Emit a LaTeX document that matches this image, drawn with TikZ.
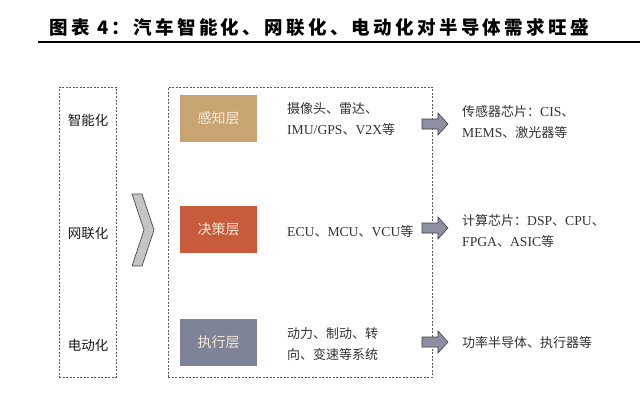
\documentclass[tikz,border=0pt]{standalone}
\usepackage{fontspec}
\setmainfont{Noto Sans CJK SC}
\newfontfamily\latinfont[Scale=1.05]{Liberation Serif}
\newfontfamily\titlefont[LetterSpace=18]{Noto Sans CJK SC}
\usetikzlibrary{positioning}
\newcommand{\latn}[1]{{\latinfont #1}}

\definecolor{senseclr}{HTML}{C9A473}
\definecolor{decideclr}{HTML}{C75B3C}
\definecolor{actclr}{HTML}{7E8398}
\definecolor{labelclr}{HTML}{F5EBD8}
\definecolor{arrowclr}{HTML}{8C90A2}
\definecolor{chevclr}{HTML}{C4C4C4}
\definecolor{textclr}{HTML}{333333}

\begin{document}
\begin{tikzpicture}[x=1pt, y=-1pt,
	dashbox/.style={draw=black!65, dash pattern=on 2pt off 1.5pt, line width=0.8pt, inner sep=0},
	layer/.style={minimum width=77pt, minimum height=47pt, inner sep=0, text=labelclr, font=\fontsize{14}{16}\selectfont},
	desc/.style={anchor=west, align=left, inner sep=0, text=textclr, font=\fontsize{13}{21}\selectfont},
	trend/.style={inner sep=0, text=black!90, font=\fontsize{13.5}{16}\selectfont},
	blockarrow/.style={draw=black!75, fill=arrowclr, line width=0.6pt}]
	\useasboundingbox (0,0) rectangle (640,412);
	\fill [white] (0,0) rectangle (640,412);

	% title
	\node [anchor=base, inner sep=0, font=\titlefont\bfseries\fontsize{18.5}{20}\selectfont] (title) at (319,35) {图表 4：汽车智能化、网联化、电动化对半导体需求旺盛};
	\draw [line width=1.2pt] (38,42) -- (640,42);

	% trends
	\node [dashbox, minimum width=57pt, minimum height=290pt] (trends) at (87.5,232) {};
	\node [trend] (smart) at (88,120) {智能化};
	\node [trend] (net) at (88,233) {网联化};
	\node [trend] (elec) at (88,345) {电动化};

	\draw [draw=black!70, fill=chevclr, line width=0.7pt] (132,194) -- (142,194) -- (154,230) -- (142,266) -- (132,266) -- (144,230) -- cycle;

	% layers
	\node [dashbox, minimum width=264pt, minimum height=290pt] (layers) at (300,232) {};
	\node [layer, fill=senseclr] (sense) at (218.5,118.5) {感知层};
	\node [layer, fill=decideclr] (decide) at (218.5,229.5) {决策层};
	\node [layer, fill=actclr] (act) at (218.5,342) {执行层};

	\node [desc] (senseD) at (287,119) {摄像头、雷达、\\\latn{IMU/GPS}、\latn{V2X}等};
	\node [desc] (decideD) at (287,232) {\latn{ECU}、\latn{MCU}、\latn{VCU}等};
	\node [desc] (actD) at (287,344.5) {动力、制动、转\\向、变速等系统};

	% chips
	\foreach \y in {124,228,342}
		\draw [blockarrow] (422,{\y-5}) -- (438,{\y-5}) -- (438,{\y-11}) -- (448,\y) -- (438,{\y+11}) -- (438,{\y+5}) -- (422,{\y+5}) -- cycle;

	\node [desc] (senseC) at (462,122) {传感器芯片：\latn{CIS}、\\\latn{MEMS}、激光器等};
	\node [desc] (decideC) at (462,231) {计算芯片：\latn{DSP}、\latn{CPU}、\\\latn{FPGA}、\latn{ASIC}等};
	\node [desc] (actC) at (462,343) {功率半导体、执行器等};
\end{tikzpicture}
\end{document}
